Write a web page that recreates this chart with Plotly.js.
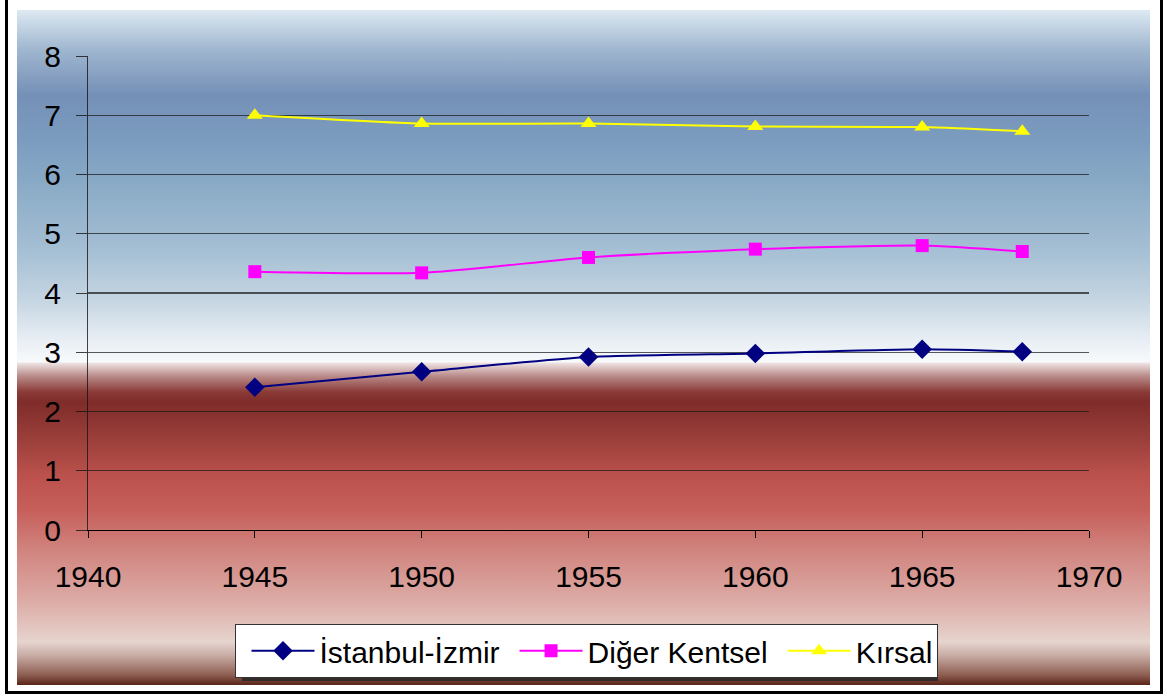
<!DOCTYPE html>
<html>
<head>
<meta charset="utf-8">
<script src="https://cdn.plot.ly/plotly-3.0.1.min.js"></script>
<style>
  html, body { margin: 0; padding: 0; background: #ffffff; width: 1167px; height: 696px; overflow: hidden; }
  #frame { position: absolute; left: 5px; top: -6px; width: 1152px; height: 694px; border: 3px solid #000; box-sizing: content-box; }
  #grad { position: absolute; left: 17px; top: 10px; width: 1133px; height: 675px;
    background: linear-gradient(to bottom,
      #dde9f2 0px, #9fb6cf 40px, #7590b7 85px, #7b9cbf 130px, #88a9c5 170px, #a5bfd4 240px,
      #c5d5e2 290px, #e4ebf2 325px, #f8fafc 352px,
      #efe3e3 353px, #b98c8a 366px, #8a3a37 382px, #7f2c2a 392px, #9c3f3b 430px,
      #bd524d 468px, #c65f5a 500px, #d28883 545px, #dcaaa5 590px, #e6d4ce 632px,
      #c9aea6 645px, #8e5e52 665px, #5a2418 675px);
  }
  #plot { position: absolute; left: 0; top: 0; width: 1167px; height: 696px; }
</style>
</head>
<body>
<div id="frame"></div>
<div id="grad"></div>
<div id="plot"></div>
<script>
const years = [1945, 1950, 1955, 1960, 1965, 1968];
const istanbulIzmir = [2.41, 2.67, 2.92, 2.98, 3.05, 3.01];
const digerKentsel = [4.36, 4.34, 4.60, 4.74, 4.80, 4.70];
const kirsal = [7.00, 6.86, 6.86, 6.81, 6.80, 6.73];
const seriesNames = ['İstanbul-İzmir', 'Diğer Kentsel', 'Kırsal'];
const xTicks = [1940, 1945, 1950, 1955, 1960, 1965, 1970];
const yTicks = [0, 1, 2, 3, 4, 5, 6, 7, 8];

const fontFam = 'Liberation Sans, Arial, sans-serif';

const traces = [
  { x: years, y: istanbulIzmir, name: seriesNames[0], type: 'scatter', mode: 'lines+markers',
    line: { color: '#000080', width: 2, shape: 'spline', smoothing: 0.6 },
    marker: { symbol: 'diamond', size: 15, color: '#000080' } },
  { x: years, y: digerKentsel, name: seriesNames[1], type: 'scatter', mode: 'lines+markers',
    line: { color: '#ff00ff', width: 2, shape: 'spline', smoothing: 0.6 },
    marker: { symbol: 'square', size: 13, color: '#ff00ff' } },
  { x: years, y: kirsal, name: seriesNames[2], type: 'scatter', mode: 'lines+markers',
    line: { color: '#ffff00', width: 2, shape: 'spline', smoothing: 0.6 },
    marker: { symbol: 'triangle-up', size: 14, color: '#ffff00' } }
];

const layout = {
  width: 1167, height: 696,
  paper_bgcolor: 'rgba(0,0,0,0)', plot_bgcolor: 'rgba(0,0,0,0)',
  margin: { l: 88, r: 78, t: 56, b: 166, pad: 0 },
  showlegend: true,
  font: { family: fontFam, color: '#000' },
  xaxis: {
    range: [1940, 1970], tickvals: xTicks, ticktext: xTicks.map(String),
    showgrid: false, zeroline: false, showline: true, linecolor: '#000', linewidth: 1,
    ticks: 'outside', ticklen: 7, tickcolor: '#000', tickwidth: 1,
    tickfont: { size: 30, family: fontFam, color: '#000' }, ticklabelstandoff: 13
  },
  yaxis: {
    range: [0, 8], tickvals: yTicks, ticktext: yTicks.map(String),
    showgrid: true, gridcolor: 'rgba(25,25,25,0.72)', gridwidth: 1.4,
    zeroline: false, showline: true, linecolor: 'rgba(20,20,20,0.8)', linewidth: 1,
    ticks: 'outside', ticklen: 11, tickcolor: 'rgba(20,20,20,0.8)', tickwidth: 1,
    tickfont: { size: 30, family: fontFam, color: '#000' }, ticklabelstandoff: 9
  },
  legend: {
    orientation: 'h', x: 0.4985, xanchor: 'center', y: -0.198, yanchor: 'top',
    bgcolor: '#ffffff', bordercolor: '#333333', borderwidth: 1,
    font: { size: 30, family: fontFam, color: '#000' },
    itemwidth: 63, indentation: 10, tracegroupgap: 0
  },
  shapes: [
    { type: 'rect', xref: 'paper', yref: 'paper',
      x0: (242 - 88) / 1001, x1: (938 - 88) / 1001,
      y0: (530 - 681) / 474, y1: (530 - 627) / 474,
      fillcolor: 'rgba(40,40,40,0.85)', line: { width: 0 }, layer: 'above' }
  ]
};

Plotly.newPlot('plot', traces, layout, { displayModeBar: false, staticPlot: true });
</script>
</body>
</html>
